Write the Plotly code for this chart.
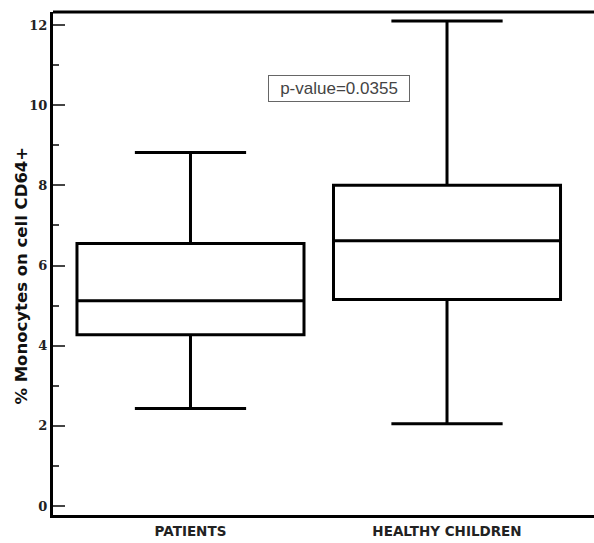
import plotly.graph_objects as go

categories = ["PATIENTS", "HEALTHY CHILDREN"]
lower_whisker = [2.43, 2.05]
q1_values = [4.27, 5.15]
median_values = [5.12, 6.62]
q3_values = [6.55, 8.0]
upper_whisker = [8.82, 12.1]
p_value_text = "p-value=0.0355"
y_title = "% Monocytes on cell CD64+"

fig = go.Figure()
for i, cat in enumerate(categories):
    fig.add_trace(go.Box(
        x=[cat],
        q1=[q1_values[i]],
        median=[median_values[i]],
        q3=[q3_values[i]],
        lowerfence=[lower_whisker[i]],
        upperfence=[upper_whisker[i]],
        boxpoints=False,
        width=0.885,
        whiskerwidth=0.49,
        line=dict(color="black", width=3),
        fillcolor="white",
        showlegend=False,
        hoverinfo="skip",
    ))

fig.update_layout(
    width=610, height=543,
    margin=dict(l=53, r=16, t=12, b=28),
    plot_bgcolor="white",
    paper_bgcolor="white",
    showlegend=False,
)

fig.update_xaxes(
    range=[-0.536, 1.573],
    automargin=False,
    showline=True, linecolor="black", linewidth=3, mirror=False,
    ticks="", showgrid=False, zeroline=False,
    tickfont=dict(family="DejaVu Sans", size=13.5, color="#222", weight="bold"),
    ticklabelstandoff=2,
)
fig.update_yaxes(
    range=[-0.225, 12.325],
    automargin=False,
    dtick=2, tick0=0,
    showline=True, linecolor="black", linewidth=3,
    ticks="inside", ticklen=12, tickwidth=1.5, tickcolor="#444",
    minor=dict(dtick=1, ticks="inside", ticklen=6, tickwidth=1.5, tickcolor="#444"),
    showgrid=False, zeroline=False,
    tickfont=dict(family="DejaVu Serif", size=13, color="#222", weight="bold"),
)

# y-axis title placed as rotated text
fig.add_annotation(
    x=-0.0573, y=0.476, xref="paper", yref="paper",
    text=y_title, textangle=-90, showarrow=False,
    xanchor="center", yanchor="middle",
    font=dict(family="DejaVu Sans", size=16.5, color="#111", weight="bold"),
)

# top frame line
fig.add_shape(type="line", xref="paper", yref="paper", x0=0, x1=1.02, y0=1, y1=1,
              line=dict(color="black", width=3))

fig.add_annotation(
    x=0.579, y=10.41, xref="x", yref="y",
    text=p_value_text, showarrow=False,
    font=dict(family="Liberation Sans", size=17, color="#444"),
    width=140, height=25,
    bordercolor="#666", borderwidth=1, borderpad=0,
    bgcolor="white",
)

fig.write_html("out.html",
               config={"displayModeBar": False},
               post_script="document.body.style.margin='0';document.body.style.overflow='hidden';")
